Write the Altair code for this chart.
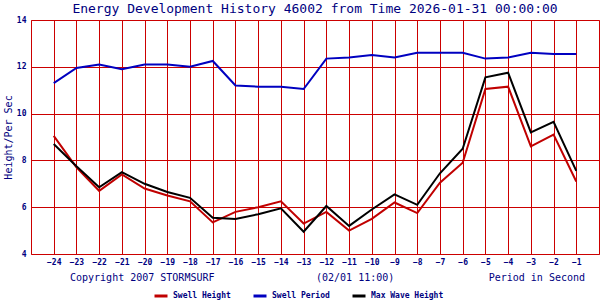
import altair as alt
import pandas as pd

hours = list(range(-24, 0))
swell_height = [9.05, 7.7, 6.7, 7.4, 6.8, 6.5, 6.25, 5.35, 5.8, 6.0, 6.25, 5.3,
                5.8, 5.0, 5.5, 6.2, 5.75, 7.05, 7.9, 11.05, 11.15, 8.6, 9.1, 7.1]
swell_period = [11.3, 11.95, 12.1, 11.9, 12.1, 12.1, 12.0, 12.25, 11.2, 11.15, 11.15, 11.05,
                12.35, 12.4, 12.5, 12.4, 12.6, 12.6, 12.6, 12.35, 12.4, 12.6, 12.55, 12.55]
max_wave = [8.7, 7.75, 6.85, 7.5, 7.0, 6.65, 6.4, 5.55, 5.5, 5.7, 5.95, 4.95,
            6.05, 5.2, 5.9, 6.55, 6.1, 7.45, 8.5, 11.55, 11.75, 9.2, 9.65, 7.55]
series_names = ["Swell Height", "Swell Period", "Max Wave Height"]
series_colors = ["#c00000", "#0000c0", "#000000"]
y_ticks = [4, 6, 8, 10, 12, 14]
title_text = "Energy Development History 46002 from Time 2026-01-31 00:00:00"
y_title = "Height/Per Sec"
footer_left = "Copyright 2007 STORMSURF"
footer_mid = "(02/01 11:00)"
footer_right = "Period in Second"

rows = []
for name, vals in zip(series_names, [swell_height, swell_period, max_wave]):
    for h, v in zip(hours, vals):
        rows.append({"hour": h, "value": v, "series": name, "order": series_names.index(name)})
df = pd.DataFrame(rows)

FONT = "DejaVu Sans Mono"
NAVY = "#000080"
GRID = "#cc0000"

lines = alt.Chart(df).mark_line(strokeWidth=2).encode(
    x=alt.X("hour:Q",
            scale=alt.Scale(domain=[-25, 0], nice=False, zero=False),
            axis=alt.Axis(values=hours, grid=True, gridColor=GRID, gridOpacity=1, gridWidth=1,
                          domain=False, ticks=False, labelFont=FONT, labelFontSize=8,
                          labelFontWeight="bold", labelColor=NAVY, labelPadding=4,
                          labelFlush=False, labelOverlap=False, title="")),
    y=alt.Y("value:Q",
            scale=alt.Scale(domain=[4, 14], nice=False, zero=False),
            axis=alt.Axis(values=y_ticks, grid=True, gridColor=GRID, gridOpacity=1, gridWidth=1,
                          domain=False, ticks=False, labelFont=FONT, labelFontSize=8,
                          labelFontWeight="bold", labelColor=NAVY, labelPadding=5,
                          labelFlush=False, title=y_title, titleFont=FONT, titleFontSize=10,
                          titleFontWeight="normal", titleColor=NAVY, titleX=-23, titleY=117,
                          titleAngle=270, titleAlign="center", titleBaseline="middle")),
    color=alt.Color("series:N",
                    scale=alt.Scale(domain=series_names, range=series_colors),
                    legend=alt.Legend(orient="none", legendX=122, legendY=268, direction="horizontal",
                                      title=None, symbolType="stroke", symbolSize=169,
                                      symbolStrokeWidth=3, labelFont=FONT, labelFontSize=8,
                                      labelFontWeight="bold", labelColor=NAVY, labelOffset=4,
                                      columnPadding=1, gridAlign="all", padding=0)),
    order=alt.Order("order:Q"),
    detail="series:N",
)

f1 = alt.Chart(pd.DataFrame({"t": [footer_left]})).mark_text(
    font=FONT, fontSize=10, color=NAVY, align="left", baseline="middle").encode(
    text="t:N", x=alt.value(39), y=alt.value(258))
f2 = alt.Chart(pd.DataFrame({"t": [footer_mid]})).mark_text(
    font=FONT, fontSize=10, color=NAVY, align="left", baseline="middle").encode(
    text="t:N", x=alt.value(285), y=alt.value(258))
f3 = alt.Chart(pd.DataFrame({"t": [footer_right]})).mark_text(
    font=FONT, fontSize=10, color=NAVY, align="right", baseline="middle").encode(
    text="t:N", x=alt.value(554), y=alt.value(258))
t0 = alt.Chart(pd.DataFrame({"t": [title_text]})).mark_text(
    font=FONT, fontSize=13, color=NAVY, align="center", baseline="alphabetic").encode(
    text="t:N", x=alt.value(284), y=alt.value(-7))

chart = alt.layer(lines, f1, f2, f3, t0).properties(
    width=568, height=234,
    autosize=alt.AutoSizeParams(type="none"),
    padding={"left": 31, "top": 20, "right": 1, "bottom": 46},
    background="white",
).configure_view(stroke=GRID, strokeWidth=1)

chart.save("out.html", embed_options={"renderer": "svg", "actions": False})
